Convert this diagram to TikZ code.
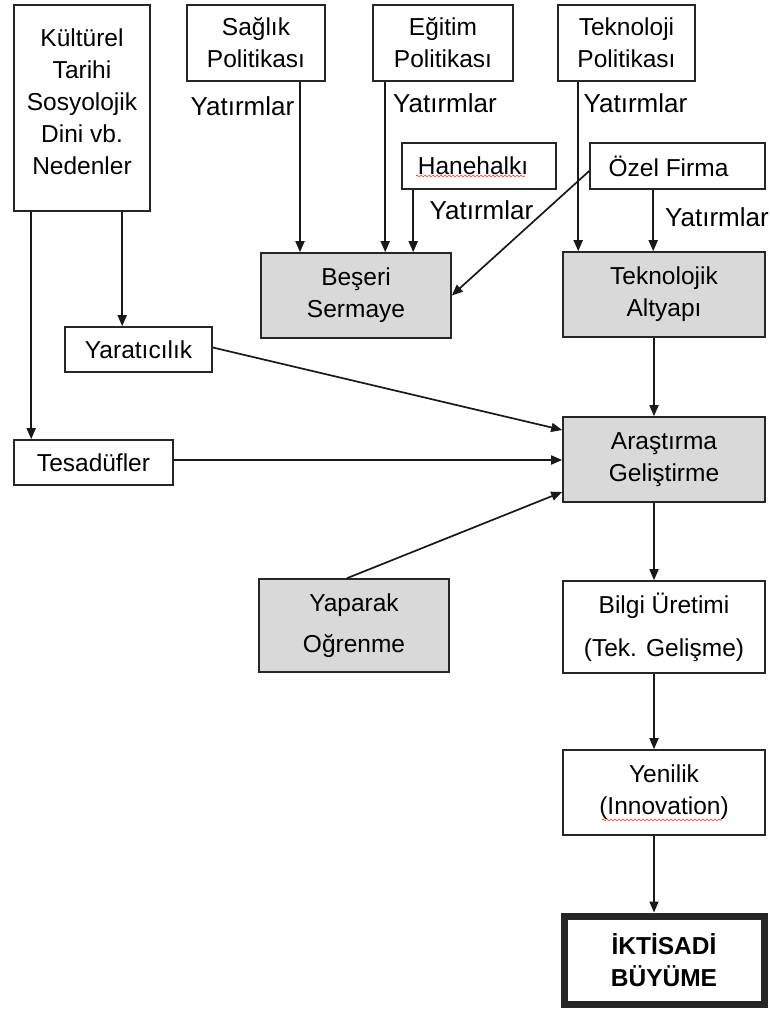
\documentclass[tikz,border=0pt]{standalone}
\usepackage{fontspec}
\setmainfont{Liberation Sans}
\usetikzlibrary{arrows.meta, decorations.pathmorphing}

\begin{document}
\begin{tikzpicture}[x=1pt, y=-1pt,
		box/.style={draw=black!85, line width=1.6pt, fill=white, inner sep=0pt, align=center, font=\fontsize{24.5}{32}\selectfont},
		gbox/.style={box, fill=black!15},
		lbl/.style={inner sep=0pt, font=\fontsize{26}{32}\selectfont},
		arr/.style={-{Triangle[length=11pt,width=9pt]}, line width=1.7pt, black!90},
		wavy/.style={red!80, line width=0.6pt, decorate, decoration={snake, amplitude=1pt, segment length=4pt}}]
				\useasboundingbox (0,0) rectangle (770,1011);
				\node[box, minimum width=136pt, minimum height=206pt] (kul) at (82,108) {Kültürel\\Tarihi\\Sosyolojik\\Dini vb.\\Nedenler\\[-20pt]};
				\node[box, minimum width=138pt, minimum height=76pt] (sag) at (256,43) {Sağlık\\Politikası};
				\node[box, minimum width=140pt, minimum height=76pt] (egt) at (443,43) {Eğitim\\Politikası};
				\node[box, minimum width=137pt, minimum height=76pt] (tekp) at (626.5,43) {Teknoloji\\Politikası};
				\node[box, minimum width=154pt, minimum height=46pt] (hane) at (479,166) {Hanehalkı\hspace*{12pt}};
				\node[box, minimum width=175pt, minimum height=46pt] (ozel) at (677.5,166) {Özel Firma\hspace*{18pt}};
				\node[gbox, minimum width=190pt, minimum height=85pt] (bes) at (356,295.5) {Beşeri\\Sermaye};
				\node[gbox, minimum width=202pt, minimum height=85pt] (tekn) at (664,294.5) {Teknolojik\\Altyapı};
				\node[box, minimum width=147pt, minimum height=45pt] (yar) at (138.5,349.5) {Yaratıcılık};
				\node[box, minimum width=159pt, minimum height=45pt] (tes) at (93.5,462.5) {Tesadüfler};
				\node[gbox, minimum width=202pt, minimum height=85pt] (ars) at (664,459.5) {Araştırma\\Geliştirme};
				\node[gbox, minimum width=190pt, minimum height=93pt] (yap) at (354,625.5) {Yaparak\\[9pt]Oğrenme};
				\node[box, minimum width=202pt, minimum height=92pt] (bil) at (664,627) {Bilgi Üretimi\\[11pt](Tek. Gelişme)};
				\node[box, minimum width=202pt, minimum height=85pt] (yen) at (664,792.5) {Yenilik\\(Innovation)};
				\node[box, line width=7pt, minimum width=200pt, minimum height=88pt, font=\fontsize{24.5}{32}\selectfont\bfseries] (ikt) at (664,960) {İKTİSADİ\\BÜYÜME};
				\node[lbl] (lab1) at (242.5,106) {Yatırmlar};
				\node[lbl] (lab2) at (445,103) {Yatırmlar};
				\node[lbl] (lab3) at (635.5,103) {Yatırmlar};
				\node[lbl] (lab4) at (481.5,210) {Yatırmlar};
				\node[lbl] (lab5) at (717,217) {Yatırmlar};
				\draw[wavy] (416,176) -- (525,176);
				\draw[wavy] (602,820) -- (722,820);
				\draw[arr] ([xshift=18]kul.south west) -- ([xshift=18]tes.north west);
				\draw[arr] ([xshift=109]kul.south west) -- ([xshift=109]kul.south west |- yar.north);
				\draw[arr] ([xshift=44]sag.south) -- ([xshift=44]sag.south |- bes.north);
				\draw[arr] ([xshift=13]egt.south west) -- ([xshift=13]egt.south west |- bes.north);
				\draw[arr] ([xshift=12]hane.south west) -- ([xshift=12]hane.south west |- bes.north);
				\draw[arr] ([xshift=21]tekp.south west) -- ([xshift=21]tekp.south west |- tekn.north);
				\draw[arr] ([xshift=64]ozel.south west) -- ([xshift=64]ozel.south west |- tekn.north);
				\draw[arr] ([yshift=-5]ozel.west) -- (bes.east);
				\draw[arr] ([xshift=-10]tekn.south) -- ([xshift=-10]ars.north);
				\draw[arr] ([yshift=2]yar.east) -- ([yshift=29.5]ars.west);
				\draw[arr] ([yshift=2.5]tes.east) -- ([yshift=2.5]tes.east -| ars.west);
				\draw[arr] ([xshift=-7]yap.north) -- ([yshift=-32.5]ars.west);
				\draw[arr] ([xshift=-10]ars.south) -- ([xshift=-10]bil.north);
				\draw[arr] ([xshift=-10]bil.south) -- ([xshift=-10]yen.north);
				\draw[arr] ([xshift=-10]yen.south) -- ([xshift=-10]ikt.north);
			\end{tikzpicture}
\end{document}
